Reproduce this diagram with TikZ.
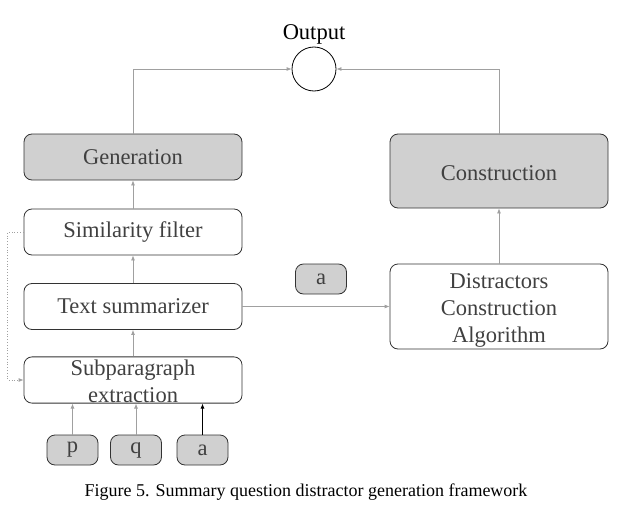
\documentclass[tikz,border=0pt]{standalone}
\usepackage{fontspec}
\setmainfont{Liberation Serif}
\usetikzlibrary{arrows.meta}
\definecolor{boxgray}{HTML}{D0D0D0}
\definecolor{linegray}{HTML}{A0A0A0}
\definecolor{textgray}{HTML}{404040}
\def\tip{{Latex[length=5pt,width=4pt]}}

\begin{document}
\begin{tikzpicture}[x=1pt,y=-1pt,
  box/.style={draw=black!80, line width=0.8pt, rounded corners=8pt, align=center,
    text=textgray, inner sep=0pt, font=\fontsize{22.5}{27}\selectfont},
  wide/.style={box, minimum width=218pt, minimum height=46pt},
  small/.style={box, fill=boxgray, minimum width=51pt, minimum height=30pt},
  link/.style={draw=linegray, line width=0.8pt, -\tip}]
\useasboundingbox (0,0) rectangle (642,519);

% left column
\node[wide, fill=boxgray] (gen) at (133,157) {Generation};
\node[wide] (sim) at (133,232) {Similarity filter};
\node[wide] (sum) at (133,306.5) {Text summarizer};
\node[wide] (sub) at (133,380) {\rule{0pt}{19pt}Subparagraph\\extraction};
\node[small] (p) at (72.5,450) {p};
\node[small] (q) at (136,450) {q};
\node[small] (a) at (202.5,450) {a};

% right column
\node[wide, fill=boxgray, minimum height=74pt] (con) at (499,171) {\rule{0pt}{19pt}Construction};
\node[wide, minimum height=85pt] (dca) at (499,306.5) {\rule{0pt}{23pt}Distractors\\Construction\\Algorithm};
\node[small] (aa) at (321,279) {a};

% output
\node[draw, circle, line width=0.8pt, minimum size=44pt, inner sep=0pt] (out) at (314,69) {};
\node[font=\fontsize{22.5}{25}\selectfont] (outlabel) at (314,34.5) {Output};

\draw[link] (p) -- (sub.south -| p);
\draw[link] (q) -- (sub.south -| q);
\draw[link, draw=black] (a) -- (sub.south -| a);
\draw[link] (sub) -- (sum);
\draw[link] (sum) -- (sim);
\draw[link] (sim) -- (gen);
\draw[link] (gen.north) |- (out.west);
\draw[link] (con.north) |- (out.east);
\draw[link] (sum.east) -- (dca.west);
\draw[link] (dca.north) -- (con.south);
\draw[link, dotted] (sim.west) -- ++(-16,0) |- (sub.west);

\node[font=\fontsize{18}{20}\selectfont] (caption) at (306,492) {Figure 5. Summary question distractor generation framework};
\end{tikzpicture}
\end{document}
